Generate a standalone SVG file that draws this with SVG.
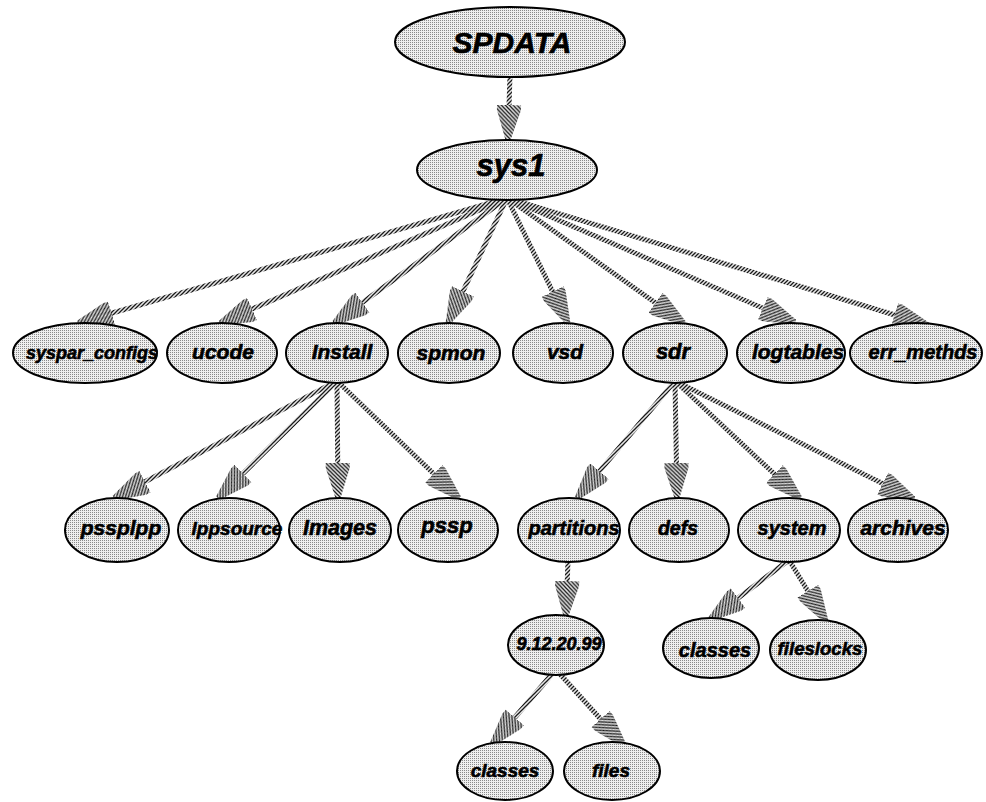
<svg xmlns="http://www.w3.org/2000/svg" width="986" height="802" viewBox="0 0 986 802">
  <defs>
    <!-- light stipple used inside every node -->
    <pattern id="dots" width="2" height="2" patternUnits="userSpaceOnUse">
      <rect width="2" height="2" fill="#efefef"/>
      <rect width="1" height="1" fill="#8a8a8a"/>
    </pattern>
    <!-- diagonal hatch used for connectors and arrowheads -->
    <pattern id="hatch" width="4" height="4" patternUnits="userSpaceOnUse">
      <rect width="4" height="4" fill="#e6e6e6"/>
      <path d="M-1,1 l2,-2 M0,4 l4,-4 M3,5 l2,-2" stroke="#1a1a1a" stroke-width="1.25"/>
    </pattern>
    <marker id="arrow" markerUnits="userSpaceOnUse" viewBox="0 -13 36 26" markerWidth="36" markerHeight="26" refX="35" refY="0" orient="auto">
      <path d="M0,-12 L5,-12 L35,-2.5 L35,2.5 L5,12 L0,12 z" fill="url(#hatch)"/>
    </marker>
    <style>
      .edge { fill: none; stroke: url(#hatch); stroke-width: 5; marker-end: url(#arrow); }
      .node ellipse { fill: url(#dots); stroke: #000; stroke-width: 2; }
      .node text { font-family: "Liberation Sans", Arial, sans-serif; font-weight: bold; font-style: italic; text-anchor: middle; fill: #000; stroke: #000; stroke-width: 0.6; }
    </style>
  </defs>

  <rect width="986" height="802" fill="#fff"/>

  <g id="connectors">
    <line class="edge" x1="510" y1="74" x2="508" y2="140"/>
    <!-- sys1 fan-out -->
    <line class="edge" x1="507" y1="198" x2="78" y2="323"/>
    <line class="edge" x1="507" y1="198" x2="220" y2="323"/>
    <line class="edge" x1="507" y1="198" x2="334" y2="323"/>
    <line class="edge" x1="507" y1="198" x2="448" y2="323"/>
    <line class="edge" x1="507" y1="198" x2="568" y2="323"/>
    <line class="edge" x1="507" y1="198" x2="684" y2="323"/>
    <line class="edge" x1="507" y1="198" x2="795" y2="322"/>
    <line class="edge" x1="507" y1="198" x2="928" y2="325"/>
    <!-- Install fan-out -->
    <line class="edge" x1="337" y1="381" x2="114" y2="498"/>
    <line class="edge" x1="337" y1="381" x2="218" y2="498"/>
    <line class="edge" x1="337" y1="381" x2="338" y2="498"/>
    <line class="edge" x1="337" y1="381" x2="459" y2="498"/>
    <!-- sdr fan-out -->
    <line class="edge" x1="675" y1="381" x2="577" y2="498"/>
    <line class="edge" x1="675" y1="381" x2="677" y2="498"/>
    <line class="edge" x1="675" y1="381" x2="800" y2="498"/>
    <line class="edge" x1="675" y1="381" x2="914" y2="499"/>
    <!-- lower levels -->
    <line class="edge" x1="568" y1="560" x2="566" y2="616"/>
    <line class="edge" x1="553" y1="673" x2="492" y2="744"/>
    <line class="edge" x1="559" y1="673" x2="624" y2="745"/>
    <line class="edge" x1="789" y1="560" x2="710" y2="619"/>
    <line class="edge" x1="789" y1="560" x2="826" y2="621"/>
  </g>

  <g id="n-spdata" class="node"><ellipse cx="510" cy="42" rx="115" ry="35"/><text x="512" y="53" font-size="30">SPDATA</text></g>
  <g id="n-sys1" class="node"><ellipse cx="507" cy="170" rx="90" ry="30"/><text x="511" y="176" font-size="31">sys1</text></g>

  <g id="n-syspar_configs" class="node"><ellipse cx="85" cy="353" rx="72" ry="30"/><text x="92" y="359" font-size="18">syspar_configs</text></g>
  <g id="n-ucode" class="node"><ellipse cx="222" cy="353" rx="55" ry="30"/><text x="223" y="359" font-size="21">ucode</text></g>
  <g id="n-install" class="node"><ellipse cx="337" cy="353" rx="51" ry="30"/><text x="342" y="359" font-size="21">Install</text></g>
  <g id="n-spmon" class="node"><ellipse cx="449" cy="353" rx="51" ry="30"/><text x="451" y="360" font-size="21">spmon</text></g>
  <g id="n-vsd" class="node"><ellipse cx="563" cy="353" rx="50" ry="30"/><text x="565" y="359" font-size="21">vsd</text></g>
  <g id="n-sdr" class="node"><ellipse cx="675" cy="353" rx="52" ry="30"/><text x="673" y="359" font-size="22">sdr</text></g>
  <g id="n-logtables" class="node"><ellipse cx="791" cy="353" rx="54" ry="30"/><text x="798" y="359" font-size="21">logtables</text></g>
  <g id="n-err_methds" class="node"><ellipse cx="916" cy="353" rx="66" ry="30"/><text x="923" y="359" font-size="20">err_methds</text></g>

  <g id="n-pssplpp" class="node"><ellipse cx="117" cy="530" rx="52" ry="32"/><text x="121" y="535" font-size="21">pssplpp</text></g>
  <g id="n-lppsource" class="node"><ellipse cx="229" cy="530" rx="51" ry="32"/><text x="237" y="535" font-size="19">lppsource</text></g>
  <g id="n-images" class="node"><ellipse cx="340" cy="530" rx="51" ry="32"/><text x="340" y="535" font-size="21.5">Images</text></g>
  <g id="n-pssp" class="node"><ellipse cx="448" cy="530" rx="50" ry="32"/><text x="447" y="533" font-size="22">pssp</text></g>
  <g id="n-partitions" class="node"><ellipse cx="569" cy="530" rx="51" ry="32"/><text x="574" y="535" font-size="20">partitions</text></g>
  <g id="n-defs" class="node"><ellipse cx="679" cy="530" rx="50" ry="32"/><text x="678" y="535" font-size="19.5">defs</text></g>
  <g id="n-system" class="node"><ellipse cx="789" cy="530" rx="51" ry="32"/><text x="792" y="535" font-size="20">system</text></g>
  <g id="n-archives" class="node"><ellipse cx="898" cy="530" rx="50" ry="32"/><text x="903" y="535" font-size="21">archives</text></g>

  <g id="n-9.12.20.99" class="node"><ellipse cx="556" cy="645" rx="48" ry="30"/><text x="559" y="650" font-size="18">9.12.20.99</text></g>
  <g id="n-system-classes" class="node"><ellipse cx="711" cy="648" rx="48" ry="30"/><text x="715" y="657" font-size="20">classes</text></g>
  <g id="n-fileslocks" class="node"><ellipse cx="818" cy="650" rx="48" ry="30"/><text x="820" y="655" font-size="18.6">fileslocks</text></g>

  <g id="n-partition-classes" class="node"><ellipse cx="505" cy="771" rx="48" ry="29"/><text x="505" y="777" font-size="19">classes</text></g>
  <g id="n-files" class="node"><ellipse cx="612" cy="771" rx="48" ry="29"/><text x="611" y="777" font-size="19">files</text></g>
</svg>
